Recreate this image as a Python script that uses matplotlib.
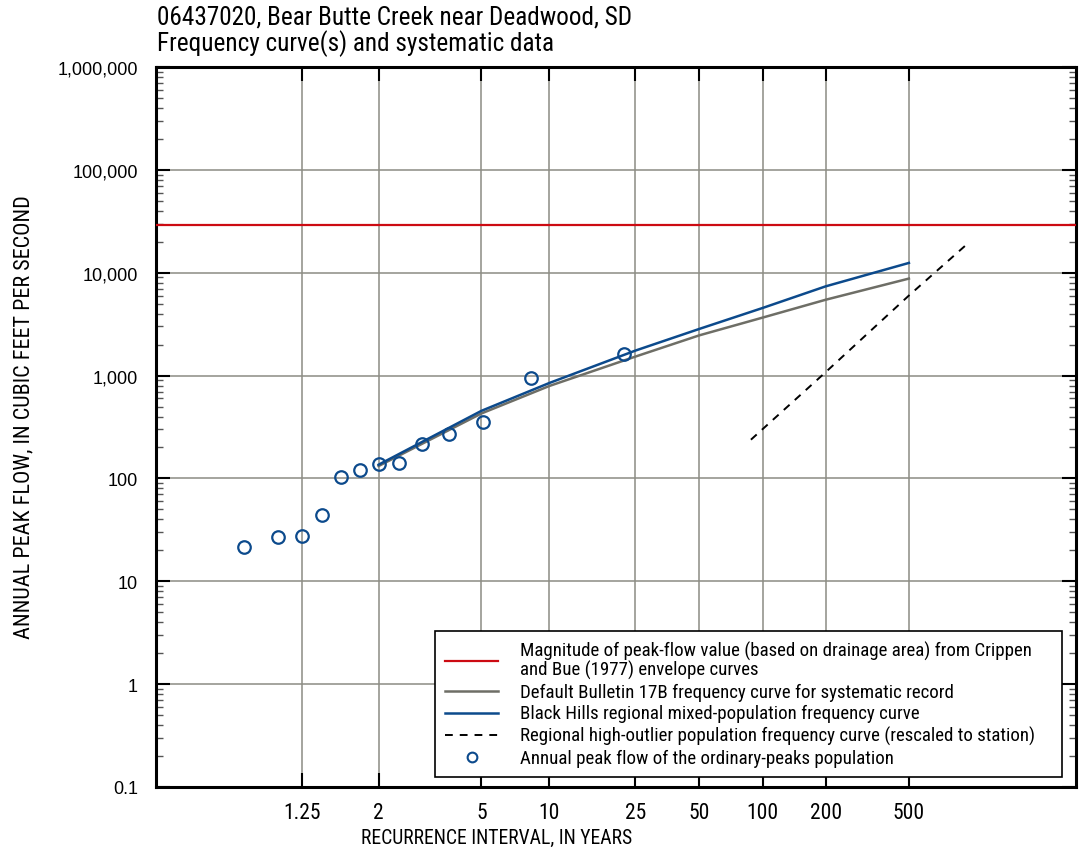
import numpy as np
import matplotlib
matplotlib.use("Agg")
import matplotlib.pyplot as plt
from matplotlib import font_manager as fm
from matplotlib.ticker import FixedLocator, FuncFormatter, LogLocator, NullFormatter, NullLocator
from matplotlib.lines import Line2D

FONT = ["Liberation Sans", "DejaVu Sans"]

# look for a condensed face for the titles and legend (the original uses one)
_faces = fm.fontManager.ttflist
COND = {"family": FONT}
for nm in ["Liberation Sans Narrow", "Roboto Condensed", "DejaVu Sans Condensed",
           "Noto Sans Condensed", "Open Sans Condensed"]:
    if any(f.name == nm for f in _faces):
        COND = {"family": [nm, "DejaVu Sans"]}
        break
else:
    for f in _faces:
        if f.stretch in ("condensed", "semi-condensed") and f.style == "normal" \
                and f.weight in (400, "normal", "regular"):
            COND = {"family": [f.name, "DejaVu Sans"], "stretch": f.stretch}
            break

# recurrence intervals (years) of the plotted curves
curve_T = [2, 5, 10, 25, 50, 100, 200, 500]
regional_q = [136, 454, 848, 1750, 2840, 4540, 7370, 12450]   # Black Hills mixed-population
b17b_q = [132, 428, 793, 1530, 2460, 3660, 5460, 8770]        # Bulletin 17B default

# rescaled high-outlier curve
outlier_T = [88, 200, 500, 930]
outlier_q = [238, 1080, 6000, 18300]

# Crippen and Bue envelope value
envelope_q = 29300

# annual peaks (ordinary population)
peak_T = [22.0, 8.25, 5.08, 3.67, 2.87, 2.36, 2.0, 1.74, 1.54, 1.38, 1.25, 1.14, 1.05]
peak_q = [1620, 957, 355, 268, 217, 142, 137, 121, 104, 44, 27.7, 26.7, 21.5]

x_ticks = [1.25, 2, 5, 10, 25, 50, 100, 200, 500]
x_ticklabels = ["1.25", "2", "5", "10", "25", "50", "100", "200", "500"]

RED = "#cc0a12"
BLUE = "#0c4a8c"
GRAY = "#6e6e66"
GRID = "#8c8c84"


def gumbel(t):
    t = np.clip(np.asarray(t, dtype=float), 1 + 1e-12, None)
    with np.errstate(divide="ignore", invalid="ignore"):
        return -np.log(-np.log(1 - 1 / t))


def gumbel_inv(g):
    g = np.asarray(g, dtype=float)
    with np.errstate(divide="ignore", invalid="ignore", over="ignore"):
        return 1 / (-np.expm1(-np.exp(-g)))


def fit(txt, target, renderer, vertical=False):
    bb = txt.get_window_extent(renderer)
    cur = bb.height if vertical else bb.width
    txt.set_fontsize(txt.get_fontsize() * target / cur)


fig = plt.figure(figsize=(10.79, 8.53), dpi=100)
ax = fig.add_axes([156 / 1079, 1 - 788 / 853, 920 / 1079, 720 / 853])

ax.set_xscale("function", functions=(gumbel, gumbel_inv))
ax.set_yscale("log")
ax.set_xlim(gumbel_inv(-2.088), gumbel_inv(8.056))
ax.set_ylim(0.1, 1e6)

ax.axhline(envelope_q, color=RED, lw=1.6, zorder=3)
ax.plot(curve_T, b17b_q, color=GRAY, lw=1.8, zorder=3)
ax.plot(curve_T, regional_q, color=BLUE, lw=1.8, zorder=4)
ax.plot(outlier_T, outlier_q, color="black", lw=1.4, ls=(0, (4.0, 3.6)), zorder=4)
ax.plot(peak_T, peak_q, ls="none", marker="o", ms=9, mfc="none", mec=BLUE, mew=1.6, zorder=5)

# axes and ticks
ax.xaxis.set_major_locator(FixedLocator(x_ticks))
ax.xaxis.set_major_formatter(FuncFormatter(lambda v, p: x_ticklabels[p] if p is not None and p < len(x_ticklabels) else ""))
ax.xaxis.set_minor_locator(NullLocator())
ax.yaxis.set_major_locator(LogLocator(base=10, numticks=20))
ax.yaxis.set_minor_locator(LogLocator(base=10, subs=np.arange(2, 10), numticks=20))
ax.yaxis.set_minor_formatter(NullFormatter())
ax.yaxis.set_major_formatter(FuncFormatter(lambda v, p: f"{v:,.0f}" if v >= 1 else f"{v:g}"))

ax.tick_params(which="both", direction="in", top=True, right=True, bottom=True, left=True)
ax.tick_params(which="major", length=10, width=1.5, color="black")
ax.tick_params(which="minor", length=5, width=1.0, color="#555555")
ax.tick_params(axis="y", which="major", pad=13)
ax.tick_params(axis="x", which="major", pad=11)
for lab in ax.get_yticklabels():
    lab.set_family(FONT)
    lab.set_fontsize(13)
for lab in ax.get_xticklabels():
    lab.set_fontproperties(fm.FontProperties(size=15.5, **COND))

ax.grid(True, which="major", color=GRID, lw=1.1, zorder=1)
ax.set_axisbelow(True)
for s in ax.spines.values():
    s.set_linewidth(2.2)
    s.set_color("black")

xl = ax.set_xlabel("RECURRENCE INTERVAL, IN YEARS", fontsize=14, va="top", **COND)
ax.xaxis.set_label_coords((497 - 156) / 920, -41 / 720)
yl = ax.set_ylabel("ANNUAL PEAK FLOW, IN CUBIC FEET PER SECOND", fontsize=14, **COND)
ax.yaxis.set_label_coords(-122 / 920, (788 - 417) / 720)

title = fig.text(157 / 1079, 1 - 6 / 853,
                 "06437020, Bear Butte Creek near Deadwood, SD\nFrequency curve(s) and systematic data",
                 fontsize=17, ha="left", va="top", linespacing=1.0, **COND)

handles = [
    Line2D([], [], color=RED, lw=1.6),
    Line2D([], [], color=GRAY, lw=1.8),
    Line2D([], [], color=BLUE, lw=1.8),
    Line2D([], [], color="black", lw=1.4, ls=(0, (4.0, 3.6))),
    Line2D([], [], ls="none", marker="o", ms=7, mfc="none", mec=BLUE, mew=1.5),
]
labels = [
    "Magnitude of peak-flow value (based on drainage area) from Crippen\nand Bue (1977) envelope curves",
    "Default Bulletin 17B frequency curve for systematic record",
    "Black Hills regional mixed-population frequency curve",
    "Regional high-outlier population frequency curve (rescaled to station)",
    "Annual peak flow of the ordinary-peaks population",
]
leg = ax.legend(handles, labels, loc="lower left",
                bbox_to_anchor=((435 - 156) / 920, 10 / 720, (1062 - 435) / 920, 0.2),
                mode="expand", frameon=True, fancybox=False, edgecolor="black",
                framealpha=1, borderpad=0.6, labelspacing=0.22, handlelength=3.2,
                handletextpad=1.3, borderaxespad=0,
                prop=dict(size=12, **COND))
leg.get_frame().set_linewidth(1.2)
leg.set_zorder(6)

# size the texts to the widths they take in the original
renderer = fig.canvas.get_renderer()
fit(title, 475, renderer)
fit(xl, 272, renderer)
fit(yl, 445, renderer, vertical=True)
widest = max(t.get_window_extent(renderer).width for t in leg.get_texts())
for t in leg.get_texts():
    t.set_fontsize(t.get_fontsize() * 513 / widest)
    t.set_linespacing(0.98)

fig.savefig("out.png", dpi=100)
